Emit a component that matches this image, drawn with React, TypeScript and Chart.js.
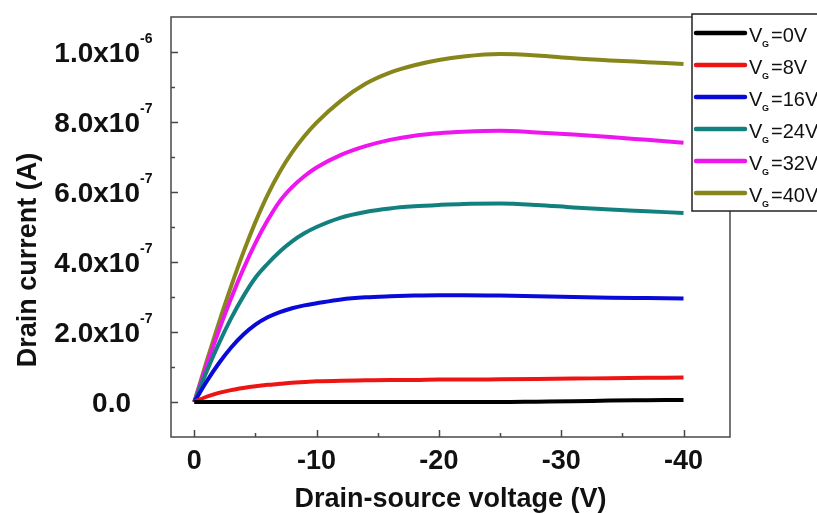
import React, { useEffect, useRef } from 'react';
import { Chart, registerables } from 'chart.js';

Chart.register(...registerables);

// Drain-source voltage (V)
const VDS = [0, -1, -2, -3, -4, -5, -6, -7, -8, -9, -10, -12, -14, -16, -18, -20, -22, -25, -28, -31, -34, -37, -40];
// Drain current, in units of 1e-6 A
const ID_VG0 = [0, 0, 0, 0, 0, 0, 0, 0, 0, 0, 0, 0, 0, 0, 0, 0, 0, 0, 0.001, 0.002, 0.004, 0.005, 0.006];
const ID_VG8 = [0, 0.015, 0.026, 0.034, 0.04, 0.045, 0.049, 0.052, 0.055, 0.057, 0.059, 0.061, 0.062, 0.063, 0.063, 0.064, 0.064, 0.065, 0.066, 0.067, 0.068, 0.069, 0.07];
const ID_VG16 = [0, 0.058, 0.11, 0.155, 0.192, 0.221, 0.242, 0.257, 0.268, 0.276, 0.282, 0.293, 0.299, 0.302, 0.304, 0.305, 0.305, 0.304, 0.302, 0.3, 0.298, 0.297, 0.296];
const ID_VG24 = [0, 0.086, 0.166, 0.238, 0.301, 0.355, 0.395, 0.43, 0.459, 0.482, 0.5, 0.527, 0.543, 0.553, 0.559, 0.563, 0.566, 0.567, 0.563, 0.556, 0.55, 0.545, 0.54];
const ID_VG32 = [0, 0.104, 0.203, 0.295, 0.379, 0.454, 0.519, 0.574, 0.614, 0.645, 0.67, 0.706, 0.731, 0.749, 0.761, 0.768, 0.772, 0.775, 0.77, 0.764, 0.757, 0.749, 0.741];
const ID_VG40 = [0, 0.115, 0.225, 0.329, 0.426, 0.514, 0.592, 0.658, 0.713, 0.759, 0.798, 0.861, 0.909, 0.941, 0.962, 0.977, 0.987, 0.994, 0.99, 0.982, 0.976, 0.971, 0.966];
const UNIT = 1e-6;

const SERIES = [ID_VG0, ID_VG8, ID_VG16, ID_VG24, ID_VG32, ID_VG40];
const SERIES_LABELS = ['=0V', '=8V', '=16V', '=24V', '=32V', '=40V'];
const COLORS = ['#000000', '#ee1414', '#0a0ad8', '#138080', '#ee16ee', '#86861a'];

const X_TICKS = [0, -10, -20, -30, -40];
const X_TICK_LABELS = ['0', '-10', '-20', '-30', '-40'];
const X_MINOR = [-5, -15, -25, -35];
const Y_TICKS = [0, 2e-7, 4e-7, 6e-7, 8e-7, 1e-6];
const Y_TICK_BASE = ['0.0', '2.0x10', '4.0x10', '6.0x10', '8.0x10', '1.0x10'];
const Y_TICK_EXP = ['', '-7', '-7', '-7', '-7', '-6'];
const Y_MINOR = [1e-7, 3e-7, 5e-7, 7e-7, 9e-7];
const X_TITLE = 'Drain-source voltage (V)';
const Y_TITLE = 'Drain current (A)';

const FONT = '"Liberation Sans", Arial, sans-serif';

const decorPlugin = {
  id: 'decor',
  afterDraw(chart: any) {
    const { ctx, chartArea: a, scales } = chart;
    const x = scales.x;
    const y = scales.y;
    ctx.save();
    // frame
    ctx.strokeStyle = '#484848';
    ctx.lineWidth = 1.5;
    ctx.strokeRect(a.left, a.top, a.right - a.left, a.bottom - a.top);
    // inward ticks
    ctx.beginPath();
    X_TICKS.forEach((v) => {
      const px = Math.round(x.getPixelForValue(v)) + 0.5;
      ctx.moveTo(px, a.bottom);
      ctx.lineTo(px, a.bottom - 7);
    });
    X_MINOR.forEach((v) => {
      const px = Math.round(x.getPixelForValue(v)) + 0.5;
      ctx.moveTo(px, a.bottom);
      ctx.lineTo(px, a.bottom - 4);
    });
    Y_TICKS.forEach((v) => {
      const py = Math.round(y.getPixelForValue(v)) + 0.5;
      ctx.moveTo(a.left, py);
      ctx.lineTo(a.left + 7, py);
    });
    Y_MINOR.forEach((v) => {
      const py = Math.round(y.getPixelForValue(v)) + 0.5;
      ctx.moveTo(a.left, py);
      ctx.lineTo(a.left + 4, py);
    });
    ctx.stroke();

    ctx.fillStyle = '#111';
    // x tick labels
    ctx.font = `bold 27px ${FONT}`;
    ctx.textAlign = 'center';
    ctx.textBaseline = 'middle';
    X_TICKS.forEach((v, i) => {
      ctx.fillText(X_TICK_LABELS[i], x.getPixelForValue(v), a.bottom + 25);
    });
    // y tick labels
    Y_TICKS.forEach((v, i) => {
      const py = y.getPixelForValue(v) + 2;
      const base = Y_TICK_BASE[i];
      const exp = Y_TICK_EXP[i];
      ctx.textBaseline = 'middle';
      ctx.font = `bold 28px ${FONT}`;
      if (exp) {
        ctx.textAlign = 'right';
        ctx.fillText(base, a.left - 31, py);
        ctx.textAlign = 'left';
        ctx.font = `bold 14px ${FONT}`;
        ctx.textBaseline = 'alphabetic';
        ctx.fillText(exp, a.left - 31, py - 11);
      } else {
        ctx.textAlign = 'right';
        ctx.fillText(base, a.left - 40, py);
      }
    });
    // axis titles
    ctx.font = `bold 27px ${FONT}`;
    ctx.textAlign = 'center';
    ctx.textBaseline = 'alphabetic';
    ctx.fillText(X_TITLE, (a.left + a.right) / 2, a.bottom + 70);
    ctx.save();
    ctx.translate(36, 260);
    ctx.rotate(-Math.PI / 2);
    ctx.fillText(Y_TITLE, 0, 0);
    ctx.restore();

    // legend
    const lx = 692;
    const ly = 14;
    ctx.fillStyle = '#ffffff';
    ctx.fillRect(lx, ly, 200, 197);
    ctx.strokeStyle = '#222';
    ctx.lineWidth = 1.5;
    ctx.strokeRect(lx, ly, 200, 197);
    SERIES_LABELS.forEach((lab, i) => {
      const ry = 33 + i * 32;
      ctx.strokeStyle = COLORS[i];
      ctx.lineWidth = 4.5;
      ctx.lineCap = 'round';
      ctx.beginPath();
      ctx.moveTo(696, ry);
      ctx.lineTo(745, ry);
      ctx.stroke();
      ctx.fillStyle = '#111';
      ctx.textAlign = 'left';
      ctx.textBaseline = 'alphabetic';
      ctx.font = `20px ${FONT}`;
      ctx.fillText('V', 749, ry + 9);
      ctx.font = `bold 9px ${FONT}`;
      ctx.fillText('G', 762, ry + 14);
      ctx.font = `20px ${FONT}`;
      ctx.fillText(lab, 771, ry + 9);
    });
    ctx.restore();
  },
};

export default function App() {
  const ref = useRef<HTMLCanvasElement | null>(null);
  useEffect(() => {
    if (!ref.current) return;
    const datasets = SERIES.map((s, i) => ({
      label: 'VG' + SERIES_LABELS[i],
      data: VDS.map((v, j) => ({ x: v, y: s[j] * UNIT })),
      borderColor: COLORS[i],
      backgroundColor: COLORS[i],
      borderWidth: 4,
      pointRadius: 0,
      cubicInterpolationMode: 'monotone' as const,
      fill: false,
    }));
    const chart = new Chart(ref.current, {
      type: 'line',
      data: { datasets },
      options: {
        animation: false,
        responsive: false,
        devicePixelRatio: 1,
        layout: { padding: { top: 17, right: 87, left: 0, bottom: 0 } },
        plugins: { legend: { display: false }, tooltip: { enabled: false } },
        scales: {
          x: {
            type: 'linear',
            min: -43.8,
            max: 1.9,
            reverse: true,
            ticks: { display: false },
            grid: { display: false },
            border: { display: false },
            afterFit: (s: any) => {
              s.height = 76;
            },
          },
          y: {
            type: 'linear',
            min: -1e-7,
            max: 1.1e-6,
            ticks: { display: false },
            grid: { display: false },
            border: { display: false },
            afterFit: (s: any) => {
              s.width = 171;
            },
          },
        },
      },
      plugins: [decorPlugin],
    });
    return () => chart.destroy();
  }, []);
  return (
    <div style={{ position: 'absolute', left: 0, top: 0, width: 817, height: 513, background: '#fff' }}>
      <canvas ref={ref} width={817} height={513} />
    </div>
  );
}
